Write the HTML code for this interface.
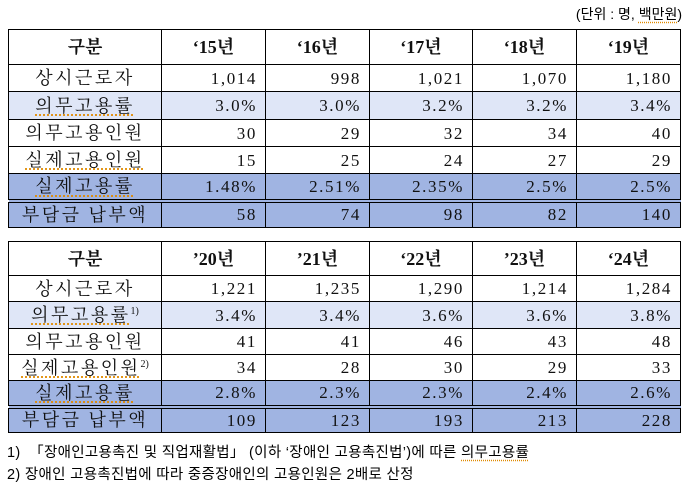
<!DOCTYPE html>
<html><head><meta charset="utf-8"><style>
body{margin:0;width:692px;height:483px;background:#fff;position:relative;overflow:hidden;font-family:"Liberation Serif","Noto Serif CJK SC",serif;}
table{position:absolute;left:8px;border-collapse:collapse;table-layout:fixed;}
td{border:1.5px solid #000;font-size:17px;text-align:right;padding:0 8px 0 0;white-space:nowrap;line-height:1;color:#111;letter-spacing:1.6px;}
td:first-child{text-align:center;padding:0;letter-spacing:2.5px;font-size:18px;}
tr.h td{text-align:center;font-weight:bold;font-size:18px;padding:0;letter-spacing:0;}
tr.l td{background:#dfe6f7;}
tr.d td{background:#a0b4e2;}
tr.dd td{border-top:4px double #000;}
.u{text-decoration:underline dotted #e08a00;text-underline-offset:3px;}
sup{font-size:10px;vertical-align:7px;line-height:0;letter-spacing:0;}
.unit{position:absolute;right:10px;top:4px;font-family:"Liberation Sans","Noto Sans CJK KR",sans-serif;font-size:14px;}
.fn{position:absolute;left:7px;font-family:"Liberation Sans","Noto Sans CJK KR",sans-serif;font-size:14.5px;letter-spacing:0.3px;}
</style></head><body>
<div class="unit">(단위 : 명, <span class="u">백만원</span>)</div>
<table style="top:29px">
<colgroup><col style="width:153px"><col style="width:104px"><col style="width:104px"><col style="width:103px"><col style="width:104px"><col style="width:104px"></colgroup>
<tr class="h" style="height:35px"><td>구분</td><td>‘15년</td><td>‘16년</td><td>‘17년</td><td>‘18년</td><td>‘19년</td></tr>
<tr style="height:27px"><td>상시근로자</td><td>1,014</td><td>998</td><td>1,021</td><td>1,070</td><td>1,180</td></tr>
<tr class="l" style="height:28px"><td><span class="u">의무고용률</span></td><td>3.0%</td><td>3.0%</td><td>3.2%</td><td>3.2%</td><td>3.4%</td></tr>
<tr style="height:27px"><td>의무고용인원</td><td>30</td><td>29</td><td>32</td><td>34</td><td>40</td></tr>
<tr style="height:27px"><td><span class="u">실제고용인원</span></td><td>15</td><td>25</td><td>24</td><td>27</td><td>29</td></tr>
<tr class="d" style="height:27px"><td><span class="u">실제고용률</span></td><td>1.48%</td><td>2.51%</td><td>2.35%</td><td>2.5%</td><td>2.5%</td></tr>
<tr class="d dd" style="height:27px"><td>부담금 납부액</td><td>58</td><td>74</td><td>98</td><td>82</td><td>140</td></tr>
</table>
<table style="top:241px">
<colgroup><col style="width:153px"><col style="width:104px"><col style="width:104px"><col style="width:103px"><col style="width:104px"><col style="width:104px"></colgroup>
<tr class="h" style="height:34px"><td>구분</td><td>’20년</td><td>’21년</td><td>‘22년</td><td>’23년</td><td>‘24년</td></tr>
<tr style="height:26px"><td>상시근로자</td><td>1,221</td><td>1,235</td><td>1,290</td><td>1,214</td><td>1,284</td></tr>
<tr class="l" style="height:27px"><td><span class="u">의무고용률</span><sup>1)</sup></td><td>3.4%</td><td>3.4%</td><td>3.6%</td><td>3.6%</td><td>3.8%</td></tr>
<tr style="height:26px"><td>의무고용인원</td><td>41</td><td>41</td><td>46</td><td>43</td><td>48</td></tr>
<tr style="height:26px"><td><span class="u">실제고용인원</span><sup>2)</sup></td><td>34</td><td>28</td><td>30</td><td>29</td><td>33</td></tr>
<tr class="d" style="height:26px"><td><span class="u">실제고용률</span></td><td>2.8%</td><td>2.3%</td><td>2.3%</td><td>2.4%</td><td>2.6%</td></tr>
<tr class="d dd" style="height:26px"><td>부담금 납부액</td><td>109</td><td>123</td><td>193</td><td>213</td><td>228</td></tr>
</table>
<div class="fn" style="top:441px">1) &nbsp;「장애인고용촉진 및 직업재활법」 (이하 ‘장애인 고용촉진법’)에 따른 <span class="u">의무고용률</span></div>
<div class="fn" style="top:463px">2) 장애인 고용촉진법에 따라 중증장애인의 고용인원은 2배로 산정</div>
</body></html>
